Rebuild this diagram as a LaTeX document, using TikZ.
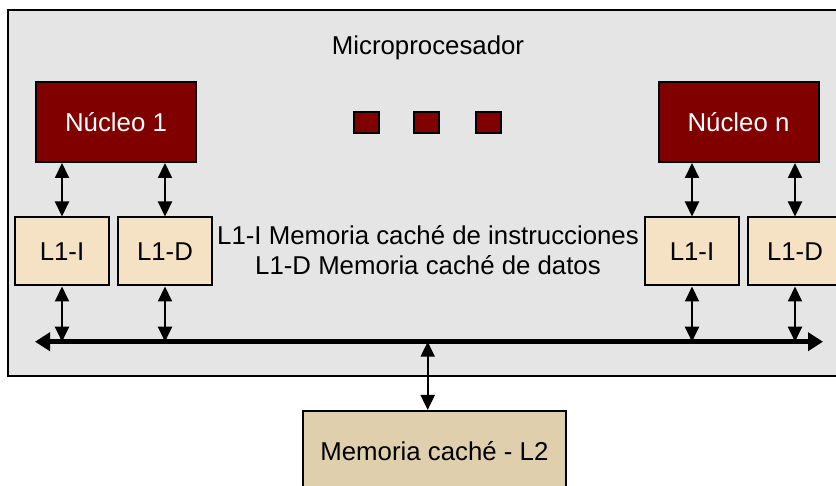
\documentclass[tikz,border=0pt]{standalone}
\usepackage{fontspec}
\setmainfont{Liberation Sans}
\usepackage{xcolor}
\usetikzlibrary{arrows.meta}
\definecolor{fondo}{RGB}{229,229,229}
\definecolor{granate}{RGB}{128,0,0}
\definecolor{crema}{RGB}{245,226,196}
\definecolor{arena}{RGB}{224,207,173}

\begin{document}
\begin{tikzpicture}[x=0.5pt,y=-0.5pt,
  every node/.style={font=\fontsize{12.9}{15}\selectfont},
  nucleo/.style={draw=black,line width=1pt,fill=granate,text=white,minimum width=80pt,minimum height=40pt},
  punto/.style={draw=black,line width=1.2pt,fill=granate,minimum width=12.5pt,minimum height=10.5pt,inner sep=0pt},
  cache/.style={draw=black,line width=1pt,fill=crema,minimum width=47pt,minimum height=34pt},
  enlace/.style={line width=1pt,{Triangle[width=7pt,length=7.5pt]}-{Triangle[width=7pt,length=7.5pt]}}]
\clip (0,0) rectangle (836,486);
\fill [white] (0,0) rectangle (836,486);
% microprocesador
\draw [line width=1pt,fill=fondo] (8,10) rectangle (850,376);
\node (micro) at (428,48) {Microprocesador};
% nucleos
\node [nucleo] (n1) at (116,122) {Núcleo 1};
\node [nucleo] (nn) at (738.5,122) {Núcleo n};
\node [punto] (p1) at (366.7,122.5) {};
\node [punto] (p2) at (426.3,122.5) {};
\node [punto] (p3) at (488.2,122.5) {};
% caches L1
\node [cache] (l1i) at (62,251.5) {L1-I};
\node [cache] (l1d) at (165,251.5) {L1-D};
\node [cache] (l1in) at (692,251.5) {L1-I};
\node [cache] (l1dn) at (795,251.5) {L1-D};
\node [align=center] (leyenda) at (428,250) {L1-I Memoria caché de instrucciones\\L1-D Memoria caché de datos};
% bus
\coordinate (busi) at (35,341.7);
\coordinate (busd) at (823,341.7);
\coordinate (busl2) at (427.7,341.7);
\draw [line width=2.5pt,-{Triangle[width=9pt,length=7.5pt]}] (busl2) -- (busd);
\draw [line width=2.5pt,-{Triangle[width=9pt,length=7.5pt]}] (busl2) -- (busi);
% L2
\node [draw=black,line width=1pt,fill=arena,minimum width=131.5pt,minimum height=40pt] (l2) at (434.4,451) {Memoria caché - L2};
% enlaces
\foreach \c/\n in {l1i/n1,l1d/n1,l1in/nn,l1dn/nn}{
  \draw [enlace] (\c.north) -- (\c.north |- \n.south);
  \draw [enlace] (\c.south) -- (\c.south |- busi);
}
\draw [enlace] (busl2) -- (busl2 |- l2.north);
\end{tikzpicture}
\end{document}
